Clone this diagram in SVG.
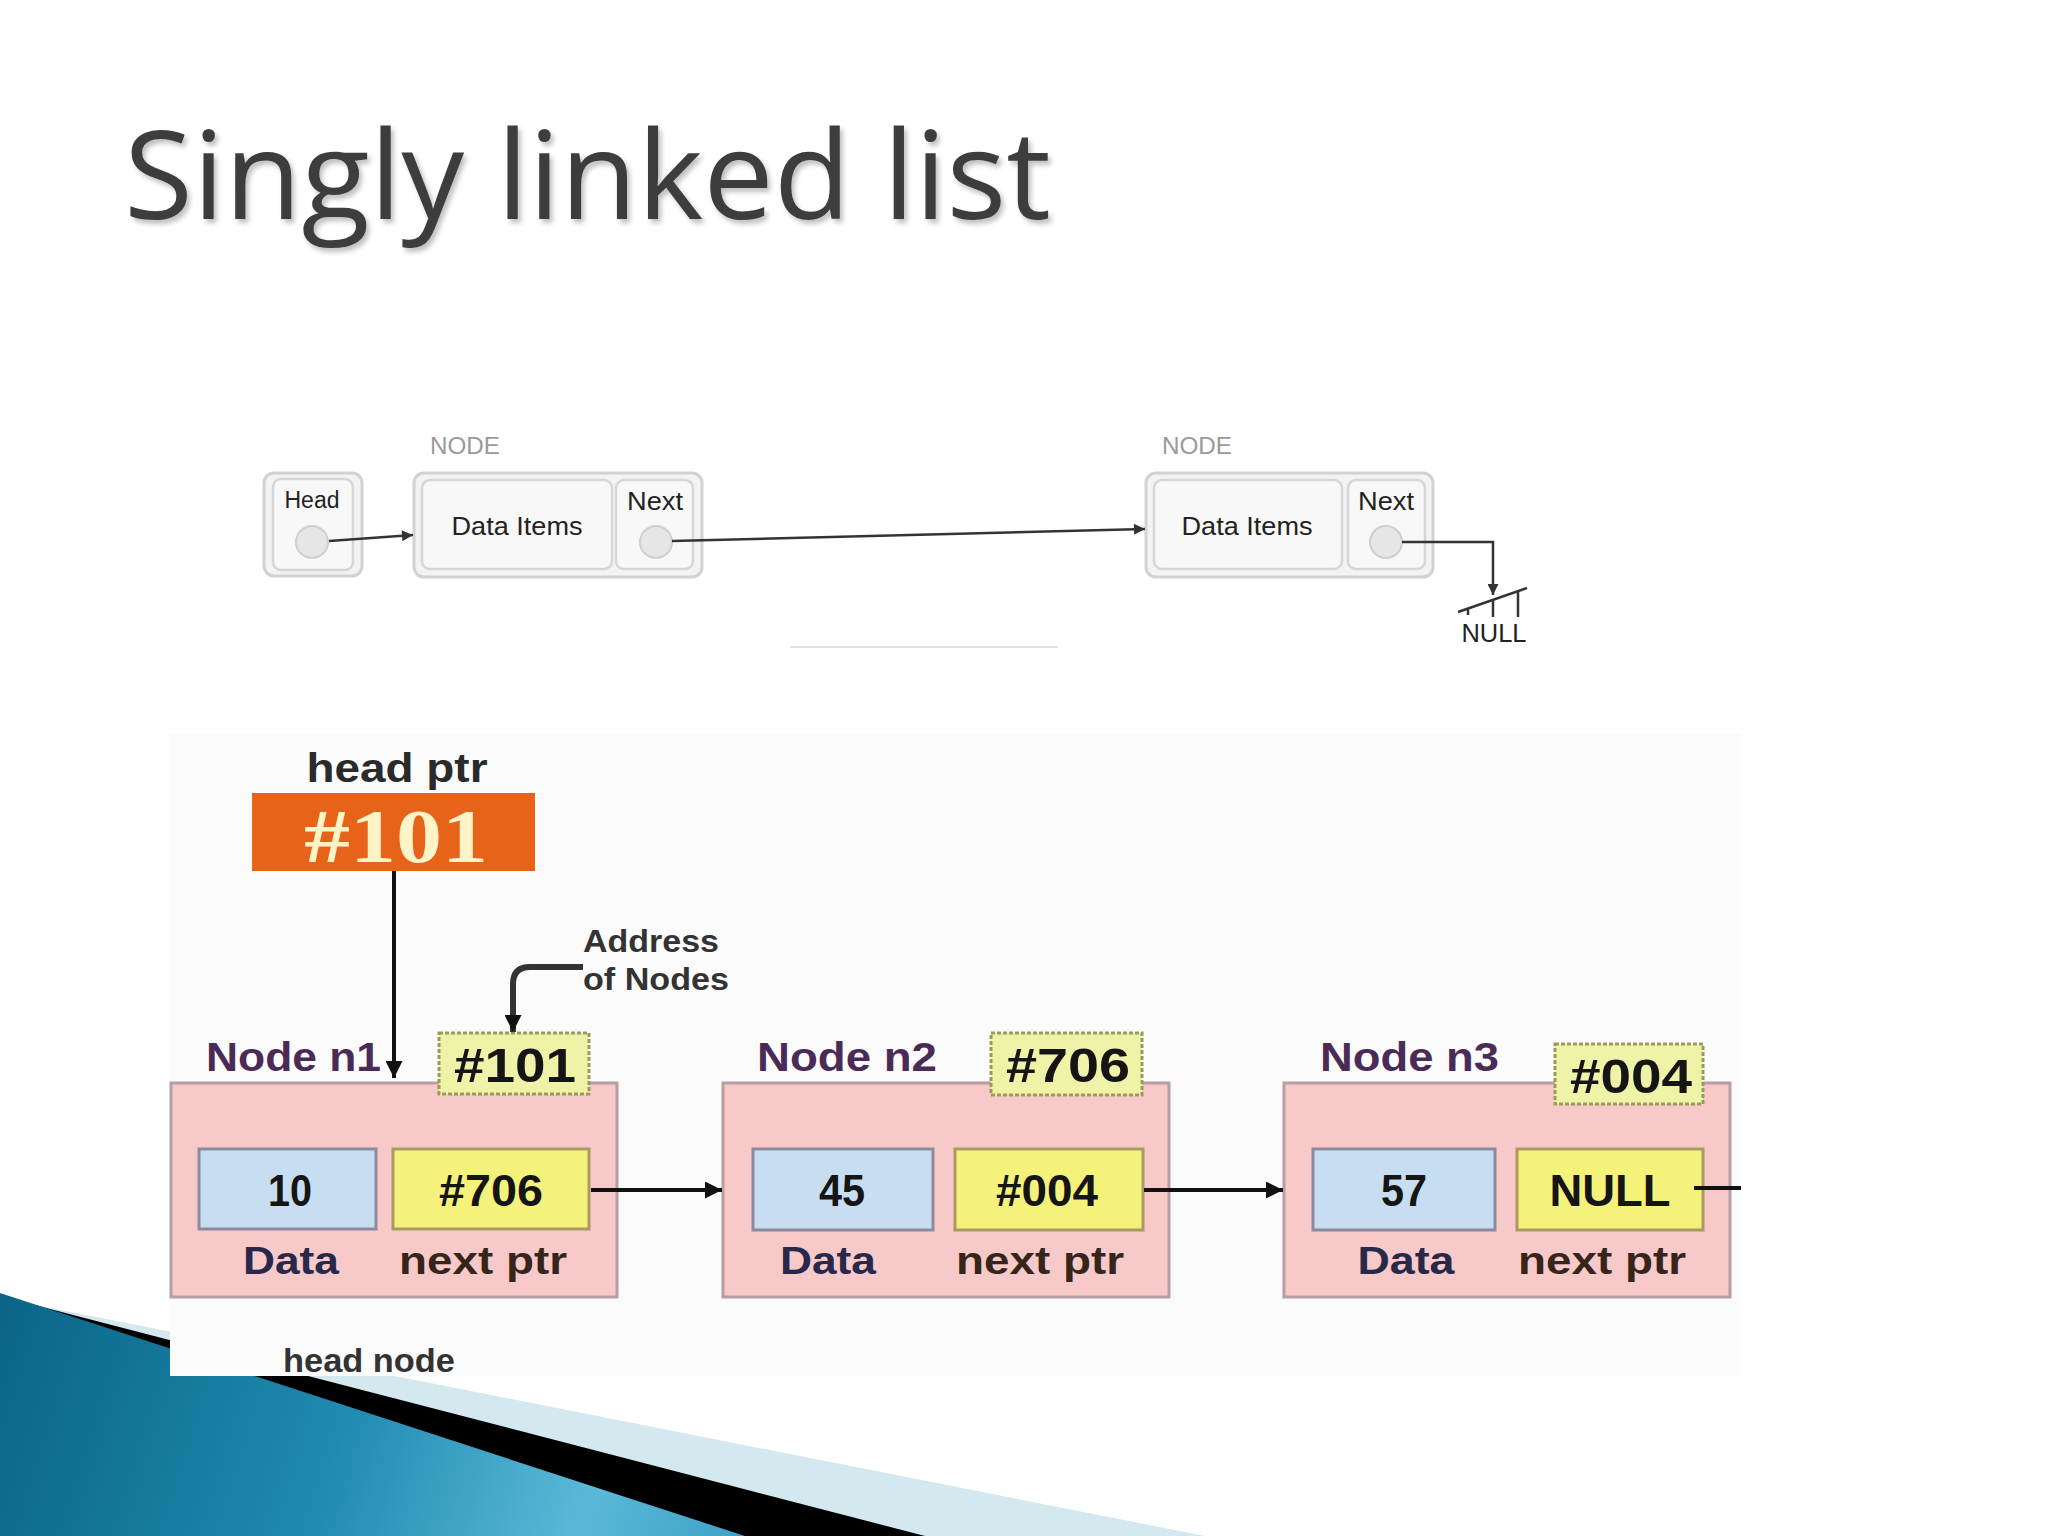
<svg xmlns="http://www.w3.org/2000/svg" width="2048" height="1536" viewBox="0 0 2048 1536">
<defs>
<linearGradient id="blueG" x1="0" y1="1300" x2="760" y2="1536" gradientUnits="userSpaceOnUse">
<stop offset="0" stop-color="#0a6586"/>
<stop offset="0.45" stop-color="#1f89b0"/>
<stop offset="0.78" stop-color="#5bb9d8"/>
<stop offset="1" stop-color="#3a9fc4"/>
</linearGradient>
<filter id="shadow" x="-5%" y="-20%" width="110%" height="150%">
<feDropShadow dx="3" dy="4" stdDeviation="2.5" flood-color="#000" flood-opacity="0.25"/>
</filter>
<marker id="arrTop" viewBox="0 0 10 10" refX="10" refY="5" markerWidth="13" markerHeight="11" markerUnits="userSpaceOnUse" orient="auto">
<path d="M0,0 L10,5 L0,10 z" fill="#333"/>
</marker>
<marker id="arrBot" viewBox="0 0 10 10" refX="10" refY="5" markerWidth="20" markerHeight="17" markerUnits="userSpaceOnUse" orient="auto">
<path d="M0,0 L10,5 L0,10 z" fill="#111"/>
</marker>
<style>
.title{font-family:"Open Sans","Liberation Sans",sans-serif;font-size:123px;fill:#3d3d3d}
.tlab{font-family:"Liberation Sans",Arial,sans-serif;fill:#222}
.nodecap{font-family:"Liberation Sans",Arial,sans-serif;font-size:24px;fill:#9a9a9a}
.outer{fill:#f3f3f3;stroke:#d2d2d2;stroke-width:3}
.inner{fill:#f8f8f8;stroke:#d6d6d6;stroke-width:2.5}
.dot{fill:#e6e6e6;stroke:#cfcfcf;stroke-width:2}
.b{font-family:"Liberation Sans",Arial,sans-serif;font-weight:bold}
.pink{fill:#f8c9c9;stroke:#b79ea2;stroke-width:3}
.dbox{fill:#c7def2;stroke:#8c8a9e;stroke-width:3}
.nbox{fill:#f5f27c;stroke:#a99a62;stroke-width:3}
.abox{fill:#eff3a8;stroke:#9a9a5a;stroke-width:3;stroke-dasharray:4 2}
.nlab{fill:#4a2b58;font-size:40px}
.val{fill:#151515;font-size:44px;text-anchor:middle}
.addr{fill:#151515;font-size:48px;text-anchor:middle}
.dlab{fill:#27284a;font-size:38px}
.plab{fill:#35251a;font-size:38px}
.conn-top{fill:none;stroke:#333;stroke-width:2.5}
.conn-bot{fill:none;stroke:#111;stroke-width:4}
</style>
</defs>

<rect x="0" y="0" width="2048" height="1536" fill="#ffffff"/>

<g id="swoosh">
<polygon points="0,1298 1205,1536 2048,1536 0,1536" fill="#d4e8f0"/>
<polygon points="0,1296 925,1536 0,1536" fill="#000000"/>
<polygon points="0,1293 745,1536 0,1536" fill="url(#blueG)"/>
</g>

<g id="title">
<text class="title" x="124" y="219" textLength="927" lengthAdjust="spacingAndGlyphs" filter="url(#shadow)">Singly linked list</text>
</g>

<!-- Top diagram -->
<g id="head-top">
<rect class="outer" x="264" y="473" width="98" height="103" rx="10"/>
<rect class="inner" x="273" y="479" width="80" height="91" rx="8"/>
<text class="tlab" x="312" y="508" font-size="23" text-anchor="middle" textLength="55" lengthAdjust="spacingAndGlyphs">Head</text>
<circle class="dot" cx="312" cy="542" r="16"/>
</g>

<g id="node1-top">
<text class="nodecap" x="430" y="454" textLength="70" lengthAdjust="spacingAndGlyphs">NODE</text>
<rect class="outer" x="414" y="473" width="288" height="104" rx="10"/>
<rect class="inner" x="422" y="480" width="190" height="89" rx="8"/>
<rect class="inner" x="616" y="480" width="77" height="89" rx="8"/>
<text class="tlab" x="517" y="535" font-size="26" text-anchor="middle" textLength="131" lengthAdjust="spacingAndGlyphs">Data Items</text>
<text class="tlab" x="655" y="510" font-size="26" text-anchor="middle" textLength="56" lengthAdjust="spacingAndGlyphs">Next</text>
<circle class="dot" cx="656" cy="542" r="16"/>
</g>

<g id="node2-top">
<text class="nodecap" x="1162" y="454" textLength="70" lengthAdjust="spacingAndGlyphs">NODE</text>
<rect class="outer" x="1146" y="473" width="287" height="104" rx="10"/>
<rect class="inner" x="1154" y="480" width="188" height="89" rx="8"/>
<rect class="inner" x="1348" y="480" width="77" height="89" rx="8"/>
<text class="tlab" x="1247" y="535" font-size="26" text-anchor="middle" textLength="131" lengthAdjust="spacingAndGlyphs">Data Items</text>
<text class="tlab" x="1386" y="510" font-size="26" text-anchor="middle" textLength="56" lengthAdjust="spacingAndGlyphs">Next</text>
<circle class="dot" cx="1386" cy="542" r="16"/>
</g>

<g id="null-top">
<line x1="1458" y1="612" x2="1527" y2="588" stroke="#333" stroke-width="2.5"/>
<line x1="1468" y1="608" x2="1468" y2="615" stroke="#333" stroke-width="2.5"/>
<line x1="1493" y1="600" x2="1493" y2="617" stroke="#333" stroke-width="2.5"/>
<line x1="1518" y1="591" x2="1518" y2="617" stroke="#333" stroke-width="2.5"/>
<text class="tlab" x="1494" y="642" font-size="25" text-anchor="middle" textLength="65" lengthAdjust="spacingAndGlyphs">NULL</text>
</g>

<line x1="790" y1="647" x2="1058" y2="647" stroke="#e2e2e2" stroke-width="2"/>

<!-- Bottom diagram -->
<rect id="picture-bg" x="170" y="734" width="1571" height="642" fill="#fcfbfb"/>

<g id="head-ptr">
<text class="b" x="397" y="782" font-size="40" fill="#2a2a2a" text-anchor="middle" textLength="181" lengthAdjust="spacingAndGlyphs">head ptr</text>
<rect x="252" y="793" width="283" height="78" fill="#e8631a"/>
<text x="396" y="862" font-family="Liberation Serif,Times New Roman,serif" font-weight="bold" font-size="76" fill="#fff4c8" text-anchor="middle" textLength="184" lengthAdjust="spacingAndGlyphs">#101</text>
</g>

<g id="address-label">
<text class="b" x="583" y="952" font-size="31" fill="#333" textLength="136" lengthAdjust="spacingAndGlyphs">Address</text>
<text class="b" x="583" y="990" font-size="31" fill="#333" textLength="146" lengthAdjust="spacingAndGlyphs">of Nodes</text>
</g>

<g id="node-n1">
<text class="b nlab" x="206" y="1071" textLength="175" lengthAdjust="spacingAndGlyphs">Node n1</text>
<rect class="pink" x="171" y="1083" width="446" height="214"/>
<rect class="abox" x="439" y="1033" width="150" height="61"/>
<text class="b addr" x="515" y="1082" textLength="122" lengthAdjust="spacingAndGlyphs">#101</text>
<rect class="dbox" x="199" y="1149" width="177" height="80"/>
<text class="b val" x="290" y="1206" textLength="44" lengthAdjust="spacingAndGlyphs">10</text>
<rect class="nbox" x="393" y="1149" width="196" height="80"/>
<text class="b val" x="491" y="1206" textLength="104" lengthAdjust="spacingAndGlyphs">#706</text>
<text class="b dlab" x="291" y="1274" text-anchor="middle" textLength="96" lengthAdjust="spacingAndGlyphs">Data</text>
<text class="b plab" x="483" y="1274" text-anchor="middle" textLength="168" lengthAdjust="spacingAndGlyphs">next ptr</text>
</g>

<g id="node-n2">
<text class="b nlab" x="757" y="1071" textLength="180" lengthAdjust="spacingAndGlyphs">Node n2</text>
<rect class="pink" x="723" y="1083" width="446" height="214"/>
<rect class="abox" x="991" y="1033" width="151" height="62"/>
<text class="b addr" x="1068" y="1082" textLength="124" lengthAdjust="spacingAndGlyphs">#706</text>
<rect class="dbox" x="753" y="1149" width="180" height="81"/>
<text class="b val" x="842" y="1206" textLength="46" lengthAdjust="spacingAndGlyphs">45</text>
<rect class="nbox" x="955" y="1149" width="188" height="81"/>
<text class="b val" x="1047" y="1206" textLength="102" lengthAdjust="spacingAndGlyphs">#004</text>
<text class="b dlab" x="828" y="1274" text-anchor="middle" textLength="96" lengthAdjust="spacingAndGlyphs">Data</text>
<text class="b plab" x="1040" y="1274" text-anchor="middle" textLength="168" lengthAdjust="spacingAndGlyphs">next ptr</text>
</g>

<g id="node-n3">
<text class="b nlab" x="1320" y="1071" textLength="179" lengthAdjust="spacingAndGlyphs">Node n3</text>
<rect class="pink" x="1284" y="1083" width="446" height="214"/>
<rect class="abox" x="1555" y="1044" width="148" height="60"/>
<text class="b addr" x="1631" y="1093" textLength="122" lengthAdjust="spacingAndGlyphs">#004</text>
<rect class="dbox" x="1313" y="1149" width="182" height="81"/>
<text class="b val" x="1404" y="1206" textLength="46" lengthAdjust="spacingAndGlyphs">57</text>
<rect class="nbox" x="1517" y="1149" width="186" height="81"/>
<text class="b val" x="1610" y="1206" textLength="121" lengthAdjust="spacingAndGlyphs">NULL</text>
<text class="b dlab" x="1406" y="1274" text-anchor="middle" textLength="97" lengthAdjust="spacingAndGlyphs">Data</text>
<text class="b plab" x="1602" y="1274" text-anchor="middle" textLength="168" lengthAdjust="spacingAndGlyphs">next ptr</text>
</g>

<g id="head-node-label">
<text class="b" x="369" y="1372" font-size="34" fill="#333" text-anchor="middle" textLength="172" lengthAdjust="spacingAndGlyphs">head node</text>
</g>

<g id="connectors">
<line class="conn-top" x1="329" y1="541" x2="413" y2="535" marker-end="url(#arrTop)"/>
<line class="conn-top" x1="672" y1="541" x2="1145" y2="529" marker-end="url(#arrTop)"/>
<path class="conn-top" d="M1402,542 H1493 V595" marker-end="url(#arrTop)"/>
<line class="conn-bot" x1="394" y1="871" x2="394" y2="1078" marker-end="url(#arrBot)"/>
<path d="M583,967 H530 Q513,967 513,984 V1032" fill="none" stroke="#333" stroke-width="6" marker-end="url(#arrBot)"/>
<line class="conn-bot" x1="591" y1="1190" x2="722" y2="1190" marker-end="url(#arrBot)"/>
<line class="conn-bot" x1="1144" y1="1190" x2="1283" y2="1190" marker-end="url(#arrBot)"/>
<line class="conn-bot" x1="1694" y1="1188" x2="1741" y2="1188"/>
</g>
</svg>
